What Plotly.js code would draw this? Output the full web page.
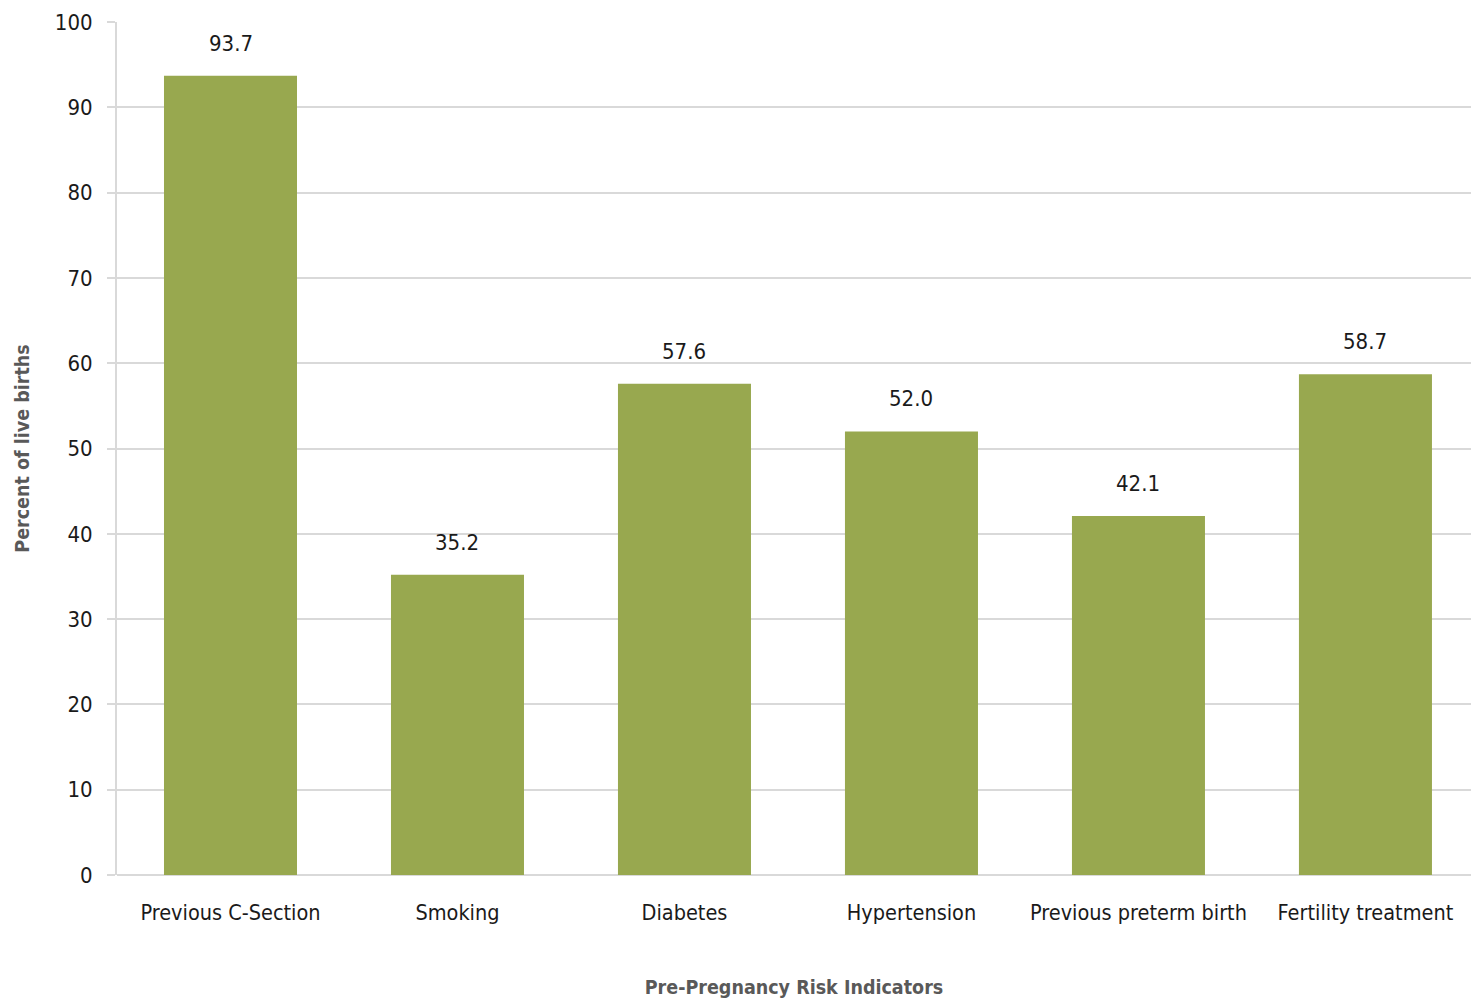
<!DOCTYPE html>
<html>
<head>
<meta charset="utf-8">
<script src="https://cdn.plot.ly/plotly-3.0.1.min.js"></script>
<style>html,body{margin:0;padding:0;background:#fff;}#chart{width:1471px;height:1000px;}</style>
</head>
<body>
<div id="chart"></div>
<script>
const categories = ["Previous C-Section", "Smoking", "Diabetes", "Hypertension", "Previous preterm birth", "Fertility treatment"];
const values = [93.7, 35.2, 57.6, 52.0, 42.1, 58.7];
const valueLabels = ["93.7", "35.2", "57.6", "52.0", "42.1", "58.7"];
const yTicks = [0, 10, 20, 30, 40, 50, 60, 70, 80, 90, 100];

const FONT = "'DejaVu Sans Condensed', 'Liberation Sans Narrow', sans-serif";

const trace = {
  type: "bar",
  x: categories,
  y: values,
  marker: {color: "#98A84F"},
  hoverinfo: "skip"
};

const annotations = categories.map((c, i) => ({
  x: c, y: values[i], xref: "x", yref: "y",
  text: valueLabels[i], showarrow: false,
  yanchor: "bottom", yshift: 18,
  font: {family: FONT, size: 22, color: "#1a1a1a"}
}));

const layout = {
  width: 1471, height: 1000,
  margin: {l: 117, r: 0, t: 22, b: 125},
  paper_bgcolor: "#ffffff", plot_bgcolor: "#ffffff",
  bargap: 0.414,
  showlegend: false,
  font: {family: FONT, size: 22, color: "#1a1a1a"},
  xaxis: {
    type: "category",
    range: [-0.5, 5.465],
    showgrid: false,
    showline: false,
    ticks: "",
    ticklabelstandoff: 22,
    tickfont: {family: FONT, size: 21.5, color: "#1a1a1a"},
    title: {text: "<b>Pre-Pregnancy Risk Indicators</b>", font: {family: FONT, size: 19.5, color: "#595959"}, standoff: 56}
  },
  yaxis: {
    range: [0, 100],
    tickvals: yTicks,
    ticktext: yTicks.map(String),
    showgrid: true, gridcolor: "#d9d9d9", gridwidth: 2,
    zeroline: true, zerolinecolor: "#d9d9d9", zerolinewidth: 2,
    showline: true, linecolor: "#d9d9d9", linewidth: 2,
    ticks: "outside", ticklen: 8, tickcolor: "#d9d9d9", tickwidth: 2,
    ticklabelstandoff: 10,
    tickfont: {family: FONT, size: 22, color: "#1a1a1a"},
    title: {text: "<b>Percent of live births</b>", font: {family: FONT, size: 19.5, color: "#595959"}, standoff: 20}
  },
  annotations: annotations
};

Plotly.newPlot("chart", [trace], layout, {displayModeBar: false, staticPlot: true});
</script>
</body>
</html>
